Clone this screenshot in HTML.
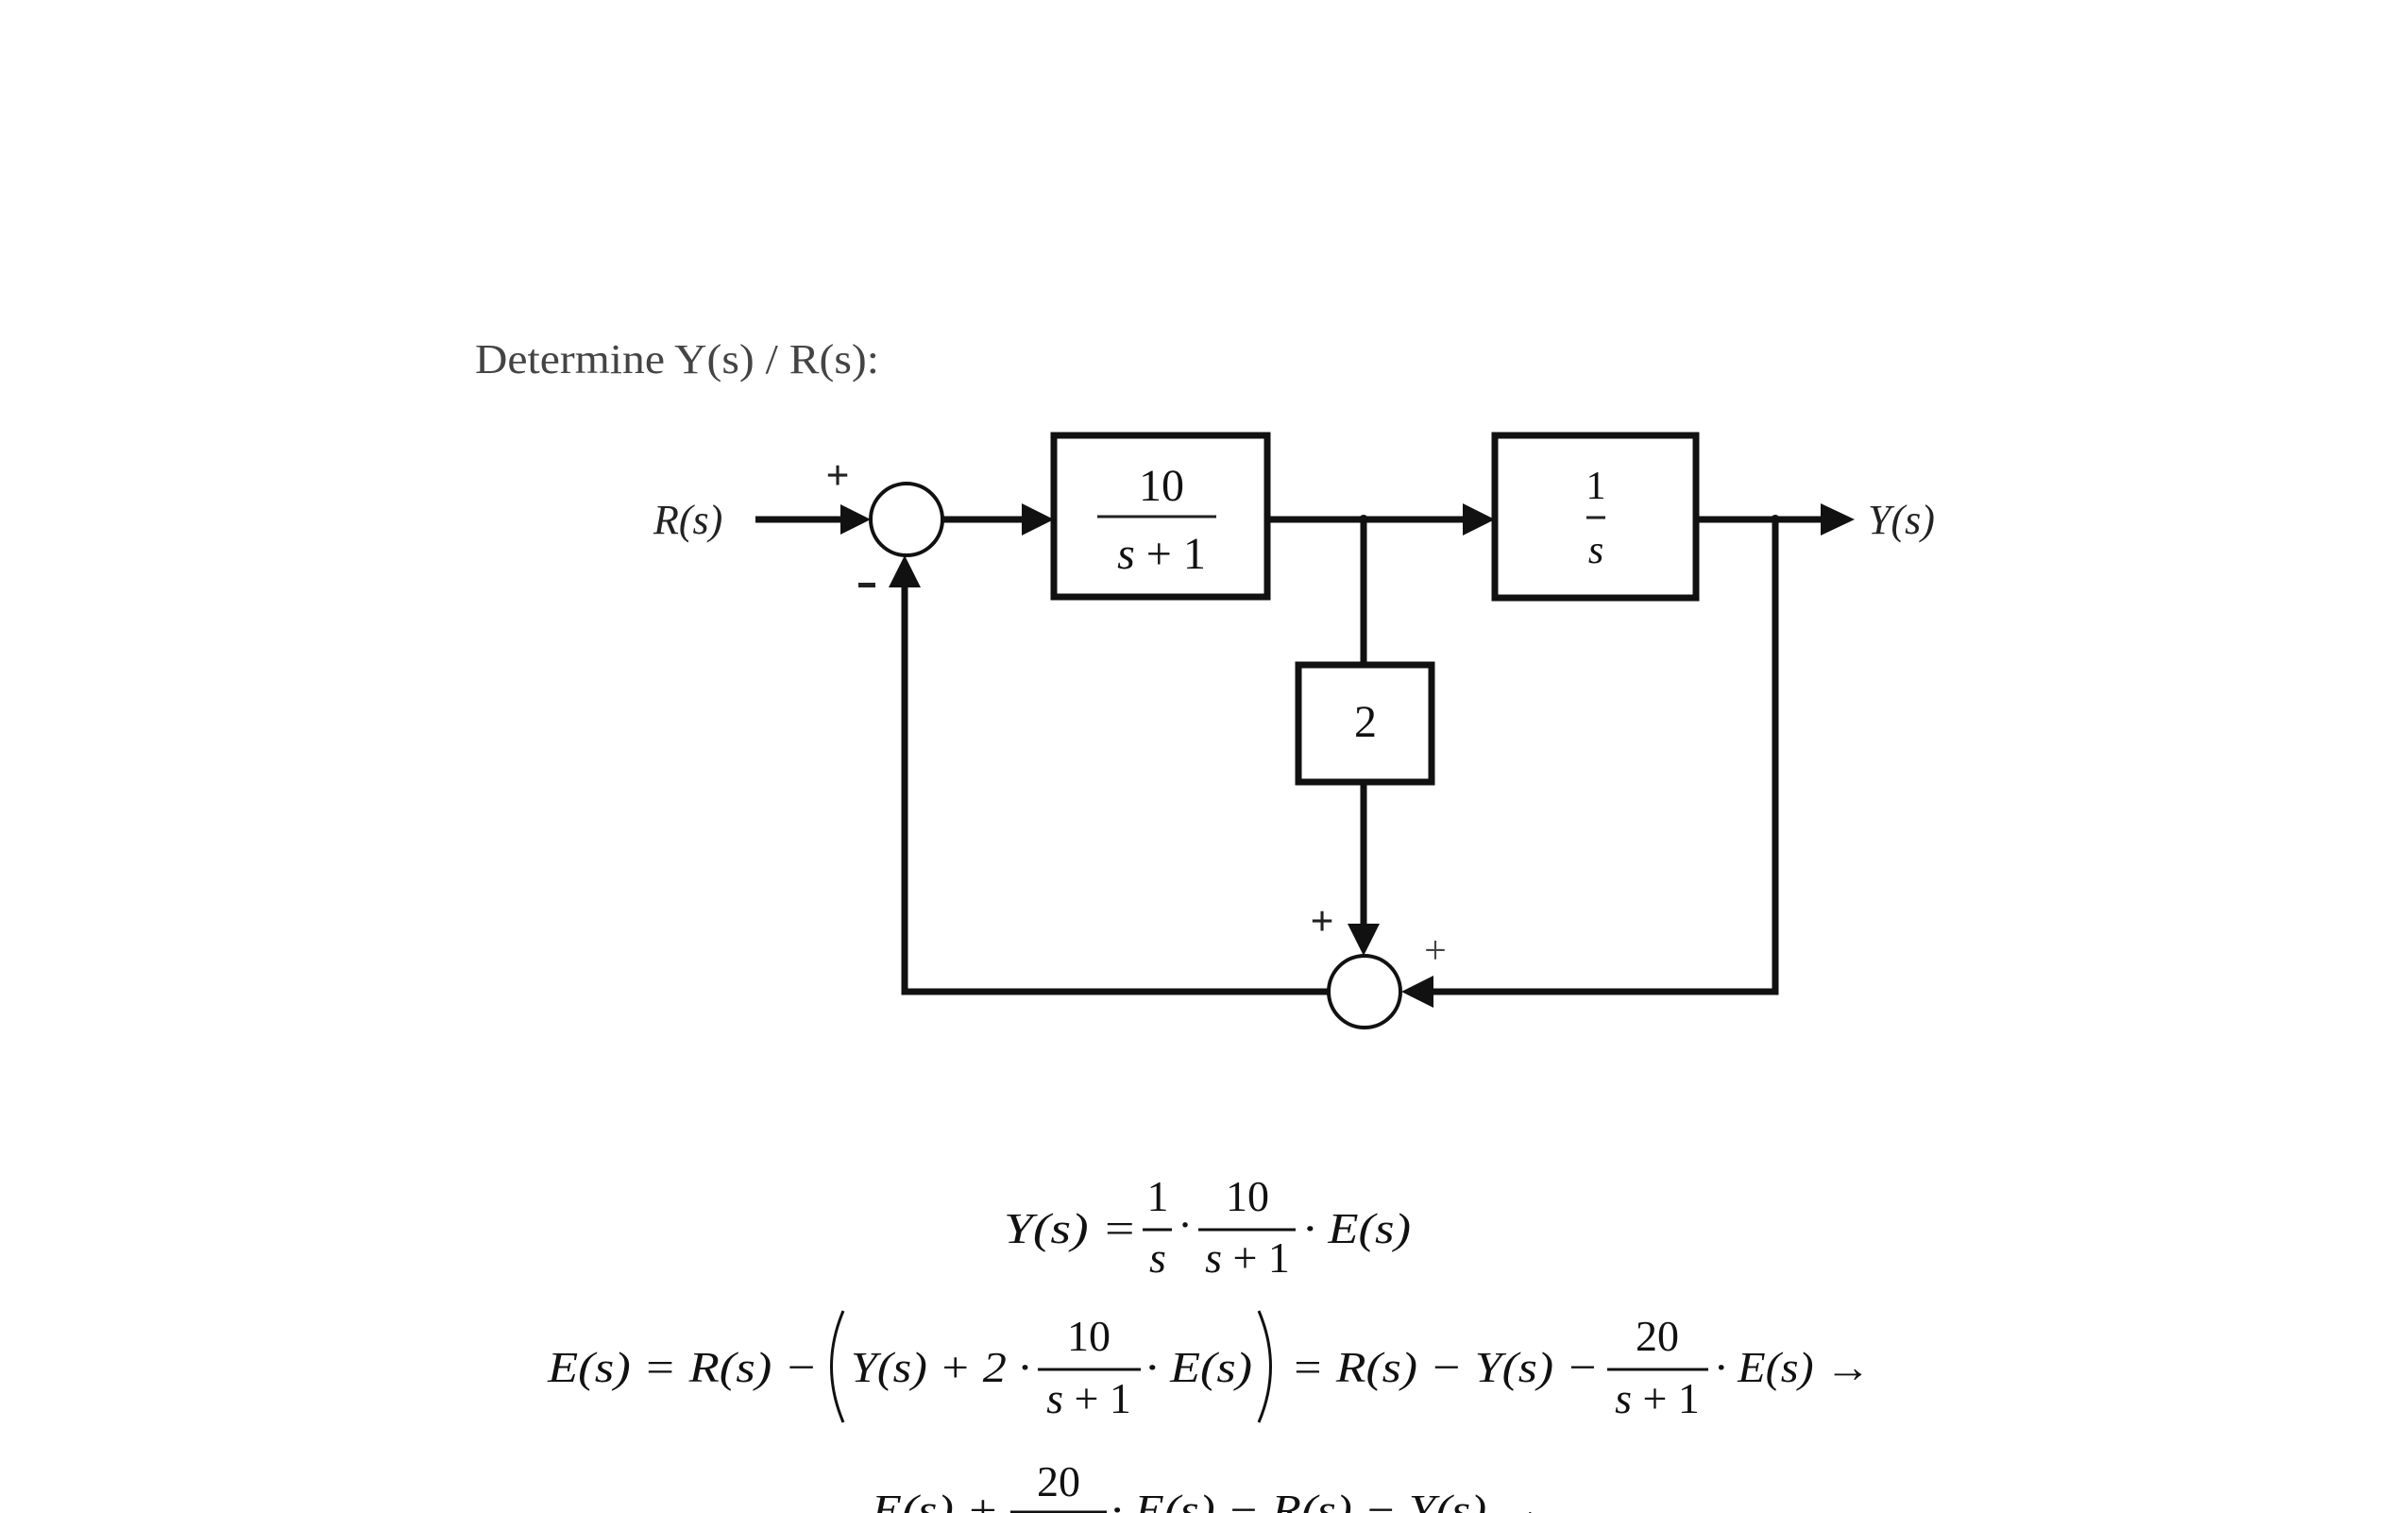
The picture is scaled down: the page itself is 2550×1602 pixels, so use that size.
<!DOCTYPE html>
<html><head><meta charset="utf-8"><style>
html,body{margin:0;padding:0;background:#fff;}
svg{display:block;}
.t{font-family:"Liberation Serif",serif;}
.m{font-family:"Liberation Serif",serif;font-style:italic;font-size:46px;fill:#111;}
.n{font-family:"Liberation Serif",serif;font-size:46px;fill:#111;}
</style></head><body>
<svg width="2550" height="1602" viewBox="0 0 2550 1602" xmlns="http://www.w3.org/2000/svg">
<text x="503" y="395" class="t" font-size="44" fill="#444" textLength="428" lengthAdjust="spacingAndGlyphs">Determine Y(s) / R(s):</text>

<g stroke="#111" stroke-width="7" fill="none">
  <rect x="1116" y="461" width="226" height="171"/>
  <rect x="1583" y="461" width="213" height="172"/>
  <rect x="1375" y="704" width="141" height="124"/>
  <circle cx="960" cy="550" r="38" stroke-width="4"/>
  <circle cx="1445" cy="1050" r="38" stroke-width="4"/>
  <line x1="800" y1="550" x2="905" y2="550"/>
  <line x1="998" y1="550" x2="1095" y2="550"/>
  <line x1="1342" y1="550" x2="1562" y2="550"/>
  <line x1="1796" y1="550" x2="1940" y2="550"/>
  <line x1="1444" y1="550" x2="1444" y2="704"/>
  <line x1="1444" y1="828" x2="1444" y2="990"/>
  <polyline points="1880,550 1880,1050 1505,1050"/>
  <polyline points="1407,1050 958,1050 958,610"/>
</g>
<g fill="#111">
  <polygon points="922,550 890,534 890,566"/>
  <polygon points="1116,550 1082,533 1082,567"/>
  <polygon points="1583,550 1549,533 1549,567"/>
  <polygon points="1964,550 1928,533 1928,567"/>
  <polygon points="1444,1012 1427,978 1461,978"/>
  <polygon points="1484,1050 1518,1033 1518,1067"/>
  <polygon points="958,588 941,622 975,622"/>
  <circle cx="1444" cy="550" r="5"/>
  <circle cx="1880" cy="550" r="5"/>
</g>

<text x="692" y="565" class="t" font-style="italic" font-size="44" fill="#222">R(s)</text>
<text x="1978" y="565" class="t" font-style="italic" font-size="44" fill="#222">Y(s)</text>
<text x="887" y="518" class="t" font-size="44" font-weight="bold" fill="#222" text-anchor="middle">+</text>
<rect x="909" y="617" width="18" height="5" fill="#222"/>
<text x="1400" y="990" class="t" font-size="44" font-weight="bold" fill="#222" text-anchor="middle">+</text>
<text x="1520" y="1020" class="t" font-size="42" fill="#444" text-anchor="middle">+</text>

<text x="1230" y="530" class="t" font-size="48" fill="#111" text-anchor="middle">10</text>
<line x1="1162" y1="547" x2="1288" y2="547" stroke="#222" stroke-width="3"/>
<text x="1230" y="602" class="t" font-size="48" fill="#111" text-anchor="middle"><tspan font-style="italic">s</tspan> + 1</text>
<text x="1690" y="528" class="t" font-size="42" fill="#111" text-anchor="middle">1</text>
<line x1="1680" y1="548" x2="1700" y2="548" stroke="#222" stroke-width="3"/>
<text x="1690" y="596" class="t" font-style="italic" font-size="42" fill="#111" text-anchor="middle">s</text>
<text x="1446" y="780" class="t" font-size="48" fill="#111" text-anchor="middle">2</text>

<!-- Eq1 -->
<text x="1063" y="1316" class="m" textLength="141" lengthAdjust="spacingAndGlyphs">Y(s) =</text>
<text x="1226" y="1282" class="n" text-anchor="middle">1</text>
<line x1="1210" y1="1302" x2="1241" y2="1302" stroke="#111" stroke-width="3"/>
<text x="1226" y="1347" class="m" text-anchor="middle">s</text>
<text x="1255" y="1312" class="n" text-anchor="middle">·</text>
<text x="1321" y="1282" class="n" text-anchor="middle">10</text>
<line x1="1269" y1="1302" x2="1372" y2="1302" stroke="#111" stroke-width="3"/>
<text x="1321" y="1347" class="m" text-anchor="middle">s <tspan font-style="normal">+ 1</tspan></text>
<text x="1380" y="1316" class="m" textLength="114" lengthAdjust="spacingAndGlyphs">· E(s)</text>

<!-- Eq2 -->
<text x="580" y="1463" class="m" textLength="286" lengthAdjust="spacingAndGlyphs">E(s) = R(s) −</text>
<path d="M893,1388 Q868,1447 893,1506" stroke="#111" stroke-width="3" fill="none"/>
<text x="901" y="1463" class="m" textLength="190" lengthAdjust="spacingAndGlyphs">Y(s) + 2 ·</text>
<text x="1153" y="1430" class="n" text-anchor="middle">10</text>
<line x1="1099" y1="1450" x2="1208" y2="1450" stroke="#111" stroke-width="3"/>
<text x="1153" y="1496" class="m" text-anchor="middle">s <tspan font-style="normal">+ 1</tspan></text>
<text x="1213" y="1463" class="m" textLength="113" lengthAdjust="spacingAndGlyphs">· E(s)</text>
<path d="M1333,1388 Q1358,1447 1333,1506" stroke="#111" stroke-width="3" fill="none"/>
<text x="1367" y="1463" class="m" textLength="326" lengthAdjust="spacingAndGlyphs">= R(s) − Y(s) −</text>
<text x="1755" y="1430" class="n" text-anchor="middle">20</text>
<line x1="1702" y1="1450" x2="1809" y2="1450" stroke="#111" stroke-width="3"/>
<text x="1755" y="1496" class="m" text-anchor="middle">s <tspan font-style="normal">+ 1</tspan></text>
<text x="1816" y="1463" class="m" textLength="165" lengthAdjust="spacingAndGlyphs">· E(s) →</text>

<!-- Eq3 (cut off) -->
<text x="923" y="1614" class="m" textLength="135" lengthAdjust="spacingAndGlyphs">E(s) +</text>
<text x="1121" y="1584" class="n" text-anchor="middle">20</text>
<line x1="1070" y1="1601" x2="1172" y2="1601" stroke="#111" stroke-width="3"/>
<text x="1176" y="1614" class="m" textLength="462" lengthAdjust="spacingAndGlyphs">· E(s) − R(s) − Y(s) →</text>
</svg>
</body></html>
